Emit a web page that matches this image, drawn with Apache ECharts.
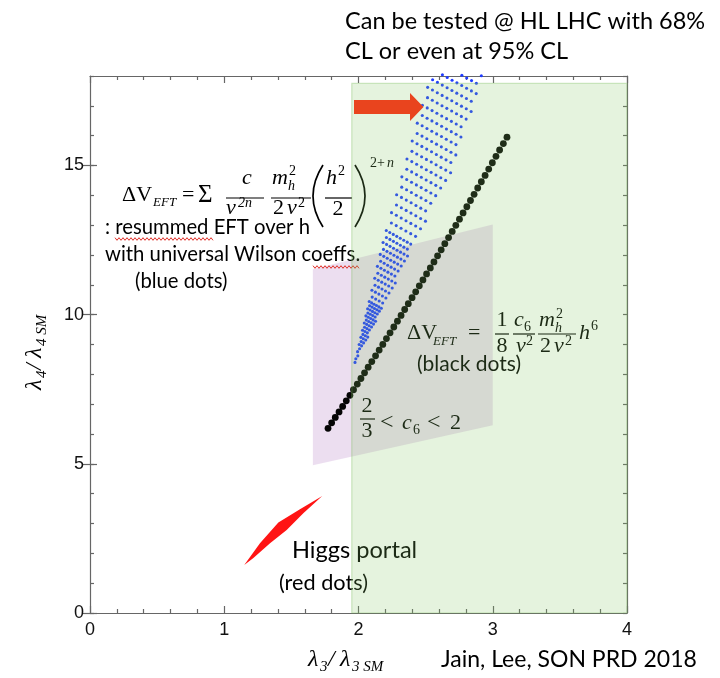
<!DOCTYPE html>
<html>
<head>
<meta charset="utf-8">
<script src="https://cdn.jsdelivr.net/npm/echarts@6/dist/echarts.min.js"></script>
<style>
  html, body { margin: 0; padding: 0; background: #fff; }
  #chart { width: 720px; height: 678px; }
</style>
</head>
<body>
<div id="chart"></div>
<script>
// ---- data: lambda4/lambda4_SM against lambda3/lambda3_SM ----

// Higgs portal scan (red dots), outline of the dense cloud
const higgsPortal = [
  [1.149, 1.61], [1.266, 2.34], [1.403, 3.03], [1.564, 3.48], [1.730, 3.92],
  [1.589, 3.34], [1.465, 2.78], [1.341, 2.34], [1.217, 1.84]
];

// band allowed for 2/3 < c6 < 2
const c6Band = [[1.66, 4.95], [1.66, 11.52], [3.00, 13.02], [3.00, 6.29]];

// region testable at the HL-LHC
const hlLhcX = [1.95, 4];
const hlLhcY = [0, 17.75];

// single h^6 operator (black dots)
const blackDots = [
  [1.773, 6.190], [1.800, 6.373], [1.827, 6.556], [1.855, 6.741], [1.882, 6.925],
  [1.909, 7.111], [1.936, 7.297], [1.963, 7.484], [1.991, 7.672], [2.018, 7.860],
  [2.045, 8.049], [2.072, 8.239], [2.099, 8.429], [2.127, 8.620], [2.154, 8.812],
  [2.181, 9.004], [2.208, 9.197], [2.235, 9.391], [2.263, 9.586], [2.290, 9.781],
  [2.317, 9.976], [2.344, 10.173], [2.371, 10.370], [2.399, 10.568], [2.426, 10.766],
  [2.453, 10.966], [2.480, 11.165], [2.507, 11.366], [2.535, 11.567], [2.562, 11.769],
  [2.589, 11.972], [2.616, 12.175], [2.643, 12.379], [2.671, 12.584], [2.698, 12.789],
  [2.725, 12.995], [2.752, 13.202], [2.779, 13.409], [2.807, 13.617], [2.834, 13.826],
  [2.861, 14.035], [2.888, 14.245], [2.915, 14.456], [2.943, 14.667], [2.970, 14.879],
  [2.997, 15.092], [3.024, 15.306], [3.051, 15.520], [3.079, 15.735], [3.106, 15.950]
];

// resummed EFT with universal Wilson coefficients (blue dots)
const blueDots = [
  [1.974, 8.40], [1.980, 8.52], [1.995, 8.62], [1.993, 8.76], [2.008, 8.86],
  [2.005, 9.00], [2.023, 8.955],
  [2.020, 9.098], [2.038, 9.053],
  [2.018, 9.24], [2.036, 9.195], [2.054, 9.15],
  [2.033, 9.338], [2.051, 9.293], [2.069, 9.248],
  [2.030, 9.48], [2.048, 9.435], [2.066, 9.39],
  [2.045, 9.578], [2.063, 9.533], [2.081, 9.488],
  [2.043, 9.72], [2.061, 9.675], [2.079, 9.63], [2.097, 9.585],
  [2.058, 9.818], [2.076, 9.773], [2.094, 9.728], [2.112, 9.683],
  [2.055, 9.96], [2.073, 9.915], [2.091, 9.87], [2.109, 9.825], [2.127, 9.78],
  [2.070, 10.058], [2.088, 10.013], [2.106, 9.968], [2.124, 9.923],
  [2.068, 10.20], [2.086, 10.155], [2.104, 10.11], [2.122, 10.065], [2.140, 10.02],
  [2.083, 10.298], [2.101, 10.253], [2.119, 10.208], [2.137, 10.163], [2.155, 10.118],
  [2.080, 10.44], [2.098, 10.395], [2.116, 10.35], [2.134, 10.305], [2.152, 10.26], [2.170, 10.215],
  [2.102, 10.588], [2.128, 10.522], [2.154, 10.457], [2.180, 10.392],
  [2.100, 10.82], [2.126, 10.755], [2.152, 10.69], [2.178, 10.625], [2.204, 10.56],
  [2.123, 10.988], [2.149, 10.923], [2.175, 10.858], [2.201, 10.793], [2.227, 10.728],
  [2.121, 11.22], [2.147, 11.155], [2.173, 11.09], [2.199, 11.025], [2.225, 10.96], [2.251, 10.895],
  [2.144, 11.388], [2.170, 11.323], [2.196, 11.258], [2.222, 11.193], [2.248, 11.128], [2.274, 11.063],
  [2.141, 11.62], [2.167, 11.555], [2.193, 11.49], [2.219, 11.425], [2.245, 11.36], [2.271, 11.295],
  [2.165, 11.788], [2.191, 11.723], [2.217, 11.658], [2.243, 11.593], [2.269, 11.528], [2.295, 11.463],
  [2.162, 12.02], [2.188, 11.955], [2.214, 11.89], [2.240, 11.825], [2.266, 11.76], [2.292, 11.695], [2.318, 11.63],
  [2.186, 12.188], [2.212, 12.123], [2.238, 12.058], [2.264, 11.993], [2.290, 11.928], [2.316, 11.863], [2.342, 11.798],
  [2.183, 12.42], [2.209, 12.355], [2.235, 12.29], [2.261, 12.225], [2.287, 12.16], [2.313, 12.095], [2.339, 12.03], [2.365, 11.965],
  [2.208, 12.588], [2.234, 12.523], [2.260, 12.458], [2.286, 12.393], [2.312, 12.328], [2.338, 12.263], [2.364, 12.198],
  [2.207, 12.82], [2.233, 12.755], [2.259, 12.69], [2.285, 12.625], [2.311, 12.56], [2.337, 12.495], [2.363, 12.43], [2.389, 12.365],
  [2.245, 13.075], [2.281, 12.985], [2.317, 12.895], [2.353, 12.805], [2.389, 12.715], [2.425, 12.625],
  [2.246, 13.42], [2.282, 13.33], [2.318, 13.24], [2.354, 13.15], [2.390, 13.06], [2.426, 12.97], [2.462, 12.88],
  [2.283, 13.675], [2.319, 13.585], [2.355, 13.495], [2.391, 13.405], [2.427, 13.315], [2.463, 13.225], [2.499, 13.135],
  [2.284, 14.02], [2.320, 13.93], [2.356, 13.84], [2.392, 13.75], [2.428, 13.66], [2.464, 13.57], [2.500, 13.48],
  [2.322, 14.275], [2.358, 14.185], [2.394, 14.095], [2.430, 14.005], [2.466, 13.915], [2.502, 13.825], [2.538, 13.735],
  [2.323, 14.62], [2.359, 14.53], [2.395, 14.44], [2.431, 14.35], [2.467, 14.26], [2.503, 14.17], [2.539, 14.08], [2.575, 13.99],
  [2.360, 14.875], [2.396, 14.785], [2.432, 14.695], [2.468, 14.605], [2.504, 14.515], [2.540, 14.425], [2.576, 14.335], [2.612, 14.245],
  [2.361, 15.22], [2.397, 15.13], [2.433, 15.04], [2.469, 14.95], [2.505, 14.86], [2.541, 14.77], [2.577, 14.68], [2.613, 14.59], [2.649, 14.50],
  [2.398, 15.475], [2.434, 15.385], [2.470, 15.295], [2.506, 15.205], [2.542, 15.115], [2.578, 15.025], [2.614, 14.935], [2.650, 14.845], [2.686, 14.755],
  [2.400, 15.82], [2.436, 15.73], [2.472, 15.64], [2.508, 15.55], [2.544, 15.46], [2.580, 15.37], [2.616, 15.28], [2.652, 15.19], [2.688, 15.10],
  [2.437, 16.075], [2.473, 15.985], [2.509, 15.895], [2.545, 15.805], [2.581, 15.715], [2.617, 15.625], [2.653, 15.535], [2.689, 15.445], [2.725, 15.355],
  [2.438, 16.42], [2.474, 16.33], [2.510, 16.24], [2.546, 16.15], [2.582, 16.06], [2.618, 15.97], [2.654, 15.88], [2.690, 15.79], [2.726, 15.70],
  [2.475, 16.675], [2.511, 16.585], [2.547, 16.495], [2.583, 16.405], [2.619, 16.315], [2.655, 16.225], [2.691, 16.135], [2.727, 16.045], [2.763, 15.955],
  [2.476, 17.02], [2.512, 16.93], [2.548, 16.84], [2.584, 16.75], [2.620, 16.66], [2.656, 16.57], [2.692, 16.48], [2.728, 16.39], [2.764, 16.30],
  [2.514, 17.275], [2.550, 17.185], [2.586, 17.095], [2.622, 17.005], [2.658, 16.915], [2.694, 16.825], [2.730, 16.735], [2.766, 16.645], [2.802, 16.555],
  [2.515, 17.62], [2.551, 17.53], [2.587, 17.44], [2.623, 17.35], [2.659, 17.26], [2.695, 17.17], [2.731, 17.08], [2.767, 16.99], [2.803, 16.90], [2.839, 16.81],
  [2.552, 17.875], [2.588, 17.785], [2.624, 17.695], [2.660, 17.605], [2.696, 17.515], [2.732, 17.425], [2.768, 17.335], [2.804, 17.245], [2.840, 17.155],
  [2.625, 18.04], [2.661, 17.95], [2.697, 17.86], [2.733, 17.77], [2.769, 17.68], [2.805, 17.59], [2.841, 17.50], [2.877, 17.41],
  [2.770, 18.025], [2.806, 17.935], [2.842, 17.845], [2.878, 17.755],
  [2.915, 18.01]
];

const xRange = [0, 4];
const yRange = [0, 18];
const yLabelValues = [0, 5, 10, 15];

// ---- drawing ----
const chart = echarts.init(document.getElementById('chart'), null, { renderer: 'canvas' });

const SERIF = "'Liberation Serif', 'DejaVu Serif', serif";
const SANS = "Lato, 'Noto Sans', sans-serif";
const AXIS = { color: '#666', width: 1.2 };

// distance from the canvas 'middle' line down to the alphabetic baseline
function midShift(family) { return family === SANS ? 0.387 : 0.3375; }

function txt(x, base, s, size, o = {}) {
  const fam = o.family || SERIF;
  return {
    type: 'text', x: x, y: base - midShift(fam) * size, z: o.z || 3, silent: true,
    style: {
      text: s, fill: o.color || '#000',
      font: (o.italic ? 'italic ' : '') + size + 'px ' + fam,
      textAlign: o.align || 'left', textVerticalAlign: 'middle'
    }
  };
}
function bar(x1, x2, y) {
  return { type: 'line', z: 3, silent: true, shape: { x1: x1, y1: y, x2: x2, y2: y },
    style: { stroke: '#000', lineWidth: 1.2 } };
}
function paren(xEnd, cx, y1, y2) {
  return { type: 'bezierCurve', z: 3, silent: true,
    shape: { x1: xEnd, y1: y1, x2: xEnd, y2: y2, cpx1: cx, cpy1: (y1 + y2) / 2 },
    style: { stroke: '#000', lineWidth: 1.7, fill: null } };
}
function wavy(x0, x1, y) {
  const pts = [];
  let up = true;
  for (let x = x0; x <= x1 + 0.01; x += 2) { pts.push([x, y + (up ? -1.3 : 1.3)]); up = !up; }
  return { type: 'polyline', z: 3, silent: true, shape: { points: pts },
    style: { stroke: '#e0312a', lineWidth: 1, fill: null } };
}

function polySeries(pts, style, z) {
  return {
    type: 'custom', z: z, silent: true, clip: false, animation: false,
    data: [0],
    renderItem: function (params, api) {
      return { type: 'polygon', shape: { points: pts.map(function (p) { return api.coord(p); }) }, style: style };
    }
  };
}

const hlLhcRect = [[hlLhcX[0], hlLhcY[0]], [hlLhcX[0], hlLhcY[1]], [hlLhcX[1], hlLhcY[1]], [hlLhcX[1], hlLhcY[0]]];

function xAxisDef(pos, labels) {
  return {
    type: 'value', position: pos, min: xRange[0], max: xRange[1], interval: 1,
    axisLine: { show: true, onZero: false, lineStyle: AXIS },
    axisTick: { show: true, inside: true, length: 7, lineStyle: AXIS },
    minorTick: { show: true, splitNumber: 5, length: 4, lineStyle: AXIS },
    splitLine: { show: false }, minorSplitLine: { show: false },
    axisLabel: { show: labels, fontFamily: "'Liberation Sans', Arial, sans-serif", fontSize: 18, color: '#111', margin: 8 }
  };
}
function yAxisDef(pos, labels) {
  return {
    type: 'value', position: pos, min: yRange[0], max: yRange[1], interval: 1,
    axisLine: { show: true, onZero: false, lineStyle: AXIS },
    axisTick: { show: true, inside: true, length: 4, lineStyle: AXIS },
    splitLine: { show: false },
    axisLabel: {
      show: labels, fontFamily: "'Liberation Sans', Arial, sans-serif", fontSize: 18, color: '#111', margin: 6,
      formatter: function (v) { return yLabelValues.indexOf(v) >= 0 ? String(v) : ''; }
    }
  };
}
function yMajorDef(pos) {
  return {
    type: 'value', position: pos, min: yRange[0], max: yRange[1],
    axisLine: { show: false },
    axisTick: { show: true, inside: true, length: 7, lineStyle: AXIS, customValues: yLabelValues },
    axisLabel: { show: false }, splitLine: { show: false }
  };
}

const graphics = [
  // heading
  txt(345, 31, 'Can be tested @ HL LHC with 68%', 23.5, { family: SANS }),
  txt(345, 61, 'CL or even at 95% CL', 23.5, { family: SANS }),

  // resummed EFT potential
  txt(122, 203, 'ΔV', 22),
  txt(153, 207, 'EFT', 13, { italic: true }),
  txt(182, 203, '=', 22),
  txt(198, 204, 'Σ', 25),
  txt(247, 186, 'c', 22, { italic: true, align: 'center' }),
  bar(226, 264, 198),
  txt(226, 216, 'v', 22, { italic: true }),
  txt(238, 208, '2n', 14, { italic: true }),
  txt(272, 186, 'm', 22, { italic: true }),
  txt(288, 191, 'h', 14, { italic: true }),
  txt(289, 176, '2', 14),
  bar(271, 311, 198),
  txt(273, 216, '2', 22),
  txt(287, 216, 'v', 22, { italic: true }),
  txt(298, 208, '2', 14),
  paren(323, 303, 165, 227),
  txt(326, 186, 'h', 22, { italic: true }),
  txt(338, 176, '2', 14),
  bar(325, 352, 198),
  txt(338, 217, '2', 22, { align: 'center' }),
  paren(355, 375, 165, 227),
  txt(370, 168, '2+', 14),
  txt(387, 168, 'n', 14, { italic: true }),

  txt(105, 235, ': resummed EFT over h', 20.3, { family: SANS }),
  wavy(115, 213, 239),
  txt(105, 262, 'with universal Wilson coeffs.', 20.3, { family: SANS }),
  wavy(313, 360, 267),
  txt(135, 289, '(blue dots)', 20.3, { family: SANS }),

  // single h^6 operator
  txt(407, 341, 'ΔV', 22),
  txt(433, 346, 'EFT', 13, { italic: true }),
  txt(468, 341, '=', 22),
  txt(502, 328, '1', 22, { align: 'center' }),
  bar(495, 509, 334),
  txt(502, 354, '8', 22, { align: 'center' }),
  txt(514, 328, 'c', 22, { italic: true }),
  txt(524, 332, '6', 14),
  bar(513, 535, 334),
  txt(516, 354, 'v', 22, { italic: true }),
  txt(526, 346, '2', 14),
  txt(539, 328, 'm', 22, { italic: true }),
  txt(555, 333, 'h', 14, { italic: true }),
  txt(556, 319, '2', 14),
  bar(538, 576, 334),
  txt(540, 354, '2', 22),
  txt(554, 354, 'v', 22, { italic: true }),
  txt(565, 346, '2', 14),
  txt(579, 341, 'h', 22, { italic: true }),
  txt(591, 331, '6', 14),
  txt(417, 372, '(black dots)', 21, { family: SANS }),

  // c6 range
  txt(367, 414, '2', 22, { align: 'center' }),
  bar(360, 375, 419),
  txt(367, 439, '3', 22, { align: 'center' }),
  txt(380, 431, '<', 24),
  txt(402, 431, 'c', 22, { italic: true }),
  txt(413, 435, '6', 14),
  txt(427, 431, '<', 24),
  txt(450, 431, '2', 22),

  // Higgs portal
  txt(292, 560, 'Higgs portal', 23.6, { family: SANS }),
  txt(279, 591, '(red dots)', 21.7, { family: SANS }),

  // axis titles
  txt(308, 668, 'λ', 24, { italic: true }),
  txt(320, 672, '3', 15, { italic: true }),
  txt(328, 668, '/', 24, { italic: true }),
  txt(340, 668, 'λ', 24, { italic: true }),
  txt(352, 672, '3 SM', 15, { italic: true }),
  {
    type: 'group', x: 43, y: 390, rotation: Math.PI / 2, silent: true,
    children: [
      txt(0, 0, 'λ', 24, { italic: true }),
      txt(12, 4, '4', 15, { italic: true }),
      txt(20, 0, '/', 24, { italic: true }),
      txt(32, 0, 'λ', 24, { italic: true }),
      txt(44, 4, '4 SM', 15, { italic: true })
    ]
  },
  txt(441, 668, 'Jain, Lee, SON PRD 2018', 23, { family: SANS }),

  // arrow pointing into the testable region
  {
    type: 'polygon', z: 10, silent: true,
    shape: { points: [[354, 100], [410, 100], [410, 93], [423.5, 107], [410, 121], [410, 114], [354, 114]] },
    style: { fill: '#e9441e' }
  }
];

const option = {
  animation: false,
  backgroundColor: '#fff',
  grid: { left: 90, right: 93, top: 76, bottom: 65, containLabel: false },
  xAxis: [xAxisDef('bottom', true), xAxisDef('top', false)],
  yAxis: [yAxisDef('left', true), yMajorDef('left'), yAxisDef('right', false), yMajorDef('right')],
  series: [
    polySeries(c6Band, { fill: 'rgba(200,160,212,0.35)' }, 1),
    polySeries(higgsPortal, { fill: '#ff1414' }, 2),
    {
      type: 'scatter', name: 'resummed EFT', data: blueDots, z: 2, clip: false,
      symbol: 'circle', symbolSize: 3.1, itemStyle: { color: '#1f3cff', opacity: 1 }, silent: true
    },
    {
      type: 'scatter', name: 'h6', data: blackDots, z: 2,
      symbol: 'circle', symbolSize: 6.8, itemStyle: { color: '#050505', opacity: 1 }, silent: true
    },
    polySeries(hlLhcRect, { fill: 'rgba(130,200,100,0.21)', stroke: 'rgba(120,190,90,0.35)', lineWidth: 1.2 }, 5)
  ],
  graphic: { elements: graphics }
};

chart.setOption(option);
</script>
</body>
</html>
